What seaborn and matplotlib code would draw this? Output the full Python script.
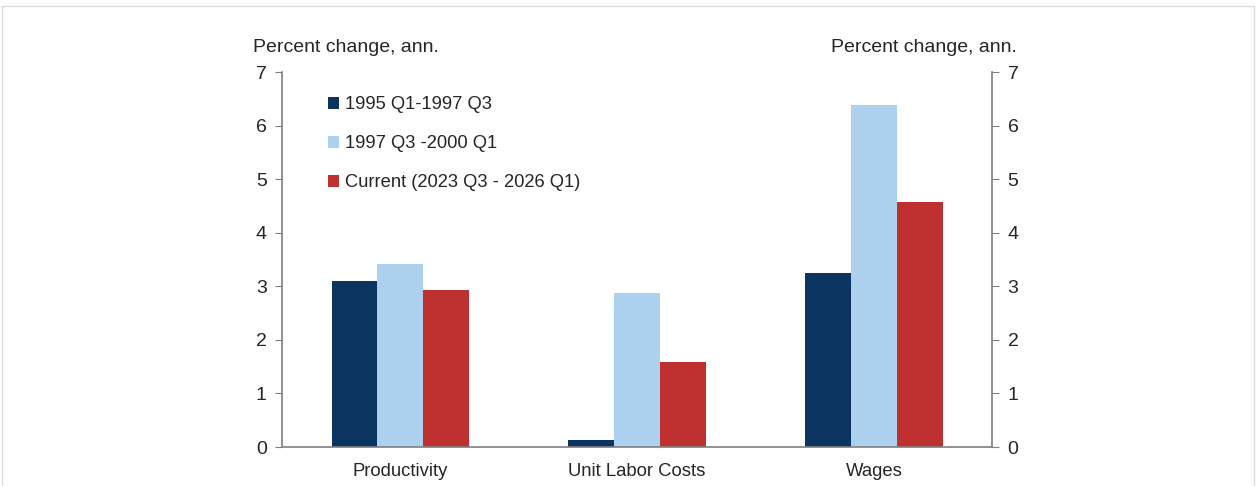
import pandas as pd
import seaborn as sns
import matplotlib.pyplot as plt
from matplotlib.patches import Rectangle

categorias = ['Productivity', 'Unit Labor Costs', 'Wages']
periodos = ['1995 Q1-1997 Q3', '1997 Q3 -2000 Q1', 'Current (2023 Q3 - 2026 Q1)']
p1995 = [3.10, 0.13, 3.25]
p1997 = [3.42, 2.87, 6.39]
atual = [2.93, 1.58, 4.57]
cores = ['#0b3560', '#abd1ee', '#bf3030']

dados = pd.DataFrame({
    'Categoria': categorias * 3,
    'Periodo': [periodos[0]] * 3 + [periodos[1]] * 3 + [periodos[2]] * 3,
    'Valor': p1995 + p1997 + atual,
})

sns.set_style('white')
plt.rcParams['font.family'] = ['Liberation Sans', 'DejaVu Sans']

fig = plt.figure(figsize=(12.56, 4.86), dpi=100)
ax = fig.add_axes([0.2245, 0.0802, 0.5655, 0.7716])
sns.barplot(data=dados, x='Categoria', y='Valor', hue='Periodo',
            palette=cores, width=0.58, saturation=1, linewidth=0, ax=ax)

ax.set_xlim(-0.5, 2.5)
ax.set_ylim(0, 7)
ax.set_yticks(range(0, 8))
ax.set_xlabel('')
ax.set_ylabel('')

cinza = '#7f7f7f'
ax.spines['top'].set_visible(False)
for lado in ['left', 'right', 'bottom']:
    ax.spines[lado].set_color(cinza)
    ax.spines[lado].set_linewidth(1.2)

ax.tick_params(axis='y', which='both', left=True, right=True, labelleft=True,
               labelright=True, direction='out', length=5, color=cinza,
               labelsize=14, pad=6)
ax.tick_params(axis='x', bottom=False, labelsize=13.3, pad=8)

fig.text(253 / 1256, 1 - 47 / 486, 'Percent change, ann.', fontsize=14,
         ha='left', va='center')
fig.text(1017 / 1256, 1 - 47 / 486, 'Percent change, ann.', fontsize=14,
         ha='right', va='center')

ax.legend(loc='upper left', bbox_to_anchor=(0.055, 0.955), frameon=False,
          fontsize=13.2, handlelength=0.6, handleheight=0.6, handletextpad=0.3,
          labelspacing=1.2, borderaxespad=0)

# moldura clara em volta da figura
fig.patches.append(Rectangle((2 / 1256, -0.01), 1 - 4 / 1256, 1 - 6 / 486 + 0.01,
                             transform=fig.transFigure, fill=False,
                             edgecolor='#dcdcdc', linewidth=1))

fig.savefig('out.png', dpi=100)
